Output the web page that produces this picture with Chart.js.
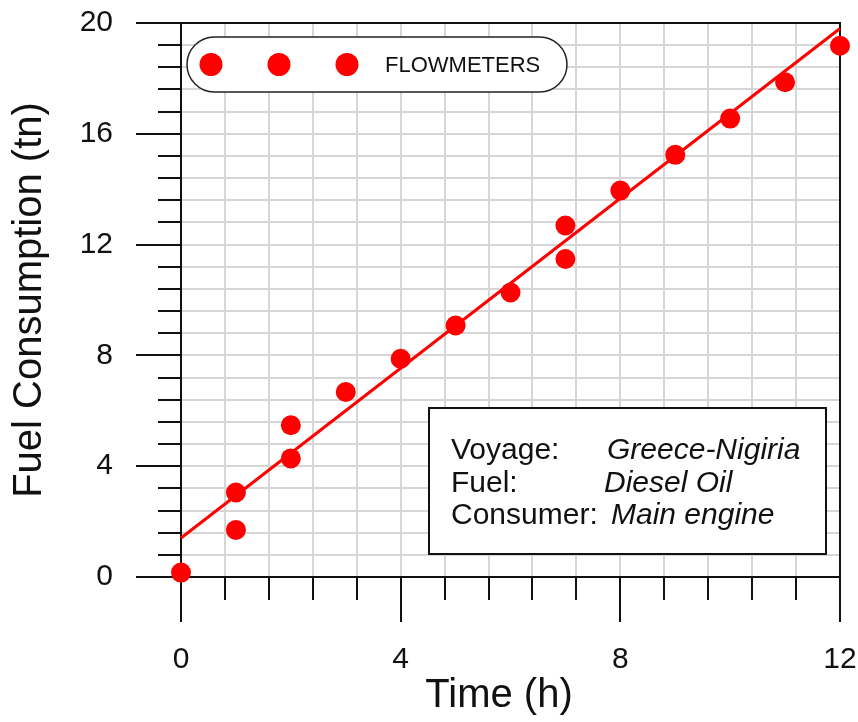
<!DOCTYPE html>
<html>
<head>
<meta charset="utf-8">
<title>Fuel Consumption</title>
<script src="https://cdn.jsdelivr.net/npm/chart.js@4.4.1/dist/chart.umd.min.js"></script>
<style>
  html, body { margin: 0; padding: 0; background: #fff; }
  #fuelChart { display: block; }
</style>
</head>
<body>
<canvas id="fuelChart" width="858" height="722"></canvas>
<script>
/* ─── DATA ─── */
const hours    = [0, 1, 1, 2, 2, 3, 4, 5, 6, 7, 7, 8, 9, 10, 11, 12];
const fuelTons = [0.16, 3.05, 1.7, 4.28, 5.48, 6.68, 7.88, 9.08, 10.27, 11.48, 12.69, 13.95, 15.24, 16.55, 17.86, 19.18];
const fitHours = [0, 12];
const fitTons  = [1.41, 19.8];
const xMajorTicks = [0, 4, 8, 12];
const yMajorTicks = [0, 4, 8, 12, 16, 20];
const minorStep = 0.8;
const legendLabel = 'FLOWMETERS';
const infoRows = [['Voyage:', 'Greece-Nigiria'], ['Fuel:', 'Diesel Oil'], ['Consumer:', 'Main engine']];

const sans = "'Liberation Sans', Arial, Helvetica, sans-serif";
const ink = '#111';
const red = '#ff0000';

// minor tick positions every 0.8 units
function stepTicks(max) {
  const out = [];
  for (let i = 0; i * minorStep <= max + 1e-6; i++) out.push({ value: Math.round(i * minorStep * 100) / 100 });
  return out;
}

/* ─── FRAME, TICK MARKS, LEGEND, INFO BOX ─── */
const decorations = {
  id: 'decorations',
  beforeDatasetsDraw(chart) {
    const { ctx, chartArea: a, scales: { x, y } } = chart;
    ctx.save();
    ctx.strokeStyle = ink;
    ctx.lineWidth = 2;
    ctx.strokeRect(a.left, a.top, a.right - a.left, a.bottom - a.top);
    ctx.beginPath();
    x.ticks.forEach(t => {
      const px = Math.round(x.getPixelForValue(t.value));
      const len = xMajorTicks.includes(t.value) ? 45 : 23;
      ctx.moveTo(px, a.bottom); ctx.lineTo(px, a.bottom + len);
    });
    y.ticks.forEach(t => {
      const py = Math.round(y.getPixelForValue(t.value));
      const len = yMajorTicks.includes(t.value) ? 45 : 23;
      ctx.moveTo(a.left, py); ctx.lineTo(a.left - len, py);
    });
    ctx.stroke();
    ctx.restore();
  },
  afterDatasetsDraw(chart) {
    const { ctx, chartArea: a } = chart;
    ctx.save();

    // pill-shaped legend
    const lx0 = a.left + 6, ly0 = a.top + 14, lx1 = a.left + 386, ly1 = a.top + 69;
    const r = (ly1 - ly0) / 2;
    ctx.beginPath();
    ctx.moveTo(lx0 + r, ly0);
    ctx.lineTo(lx1 - r, ly0);
    ctx.arc(lx1 - r, ly0 + r, r, -Math.PI / 2, Math.PI / 2);
    ctx.lineTo(lx0 + r, ly1);
    ctx.arc(lx0 + r, ly0 + r, r, Math.PI / 2, Math.PI * 1.5);
    ctx.closePath();
    ctx.fillStyle = '#fff';
    ctx.fill();
    ctx.strokeStyle = '#222';
    ctx.lineWidth = 1.5;
    ctx.stroke();
    ctx.fillStyle = red;
    [30, 98, 166].forEach(dx => {
      ctx.beginPath();
      ctx.arc(a.left + dx, ly0 + r, 11.5, 0, Math.PI * 2);
      ctx.fill();
    });
    ctx.fillStyle = ink;
    ctx.font = `22px ${sans}`;
    ctx.textBaseline = 'middle';
    ctx.fillText(legendLabel, a.left + 204, ly0 + r + 1);

    // voyage info box
    const bx = a.left + 248, by = a.top + 385, bw = 397, bh = 146;
    ctx.fillStyle = '#fff';
    ctx.fillRect(bx, by, bw, bh);
    ctx.strokeStyle = ink;
    ctx.lineWidth = 2;
    ctx.strokeRect(bx, by, bw, bh);
    ctx.textBaseline = 'alphabetic';
    const valueX = [607, 604, 611];
    infoRows.forEach((row, i) => {
      const base = by + 51 + i * 32.5;
      ctx.fillStyle = ink;
      ctx.font = `30px ${sans}`;
      ctx.fillText(row[0], bx + 22, base);
      ctx.font = `italic 30px ${sans}`;
      ctx.fillText(row[1], valueX[i], base);
    });

    // x axis title
    ctx.font = `40px ${sans}`;
    ctx.textAlign = 'center';
    ctx.textBaseline = 'middle';
    ctx.fillStyle = ink;
    ctx.fillText('Time (h)', 499, 696);
    ctx.restore();
  }
};

/* ─── CHART ─── */
const ctx = document.getElementById('fuelChart').getContext('2d');
new Chart(ctx, {
  type: 'scatter',
  data: {
    datasets: [
      {
        label: legendLabel,
        data: hours.map((h, i) => ({ x: h, y: fuelTons[i] })),
        pointRadius: 10,
        pointHoverRadius: 10,
        pointBackgroundColor: red,
        pointBorderWidth: 0,
        clip: false
      },
      {
        type: 'line',
        label: 'fit',
        data: fitHours.map((h, i) => ({ x: h, y: fitTons[i] })),
        borderColor: red,
        borderWidth: 3,
        pointRadius: 0,
        fill: false,
        clip: false
      }
    ]
  },
  options: {
    responsive: false,
    animation: false,
    devicePixelRatio: 1,
    layout: { padding: { top: 23, right: 18, left: 0, bottom: 0 } },
    plugins: { legend: { display: false }, tooltip: { enabled: false } },
    scales: {
      x: {
        type: 'linear', min: 0, max: 12,
        afterBuildTicks: s => { s.ticks = stepTicks(12); },
        afterFit: s => { s.height = 145; },
        // tick marks are drawn by the plugin; transparent ticks here only push the labels out
        grid: { color: '#d6d6d6', lineWidth: 2, drawTicks: true, tickLength: 65, tickColor: 'rgba(0,0,0,0)' },
        border: { display: false },
        ticks: {
          autoSkip: false, maxRotation: 0, padding: 0,
          color: ink, font: { family: sans, size: 30 },
          callback: v => xMajorTicks.includes(v) ? String(v) : ''
        }
      },
      y: {
        type: 'linear', min: 0, max: 20,
        afterBuildTicks: s => { s.ticks = stepTicks(20); },
        afterFit: s => { s.width = 181; },
        grid: { color: '#d6d6d6', lineWidth: 2, drawTicks: true, tickLength: 68, tickColor: 'rgba(0,0,0,0)' },
        border: { display: false },
        title: {
          display: true, text: 'Fuel Consumption (tn)', color: ink,
          font: { family: sans, size: 40 }, padding: { top: 6, bottom: 0 }
        },
        ticks: {
          autoSkip: false, padding: 0,
          color: ink, font: { family: sans, size: 30 },
          callback: v => yMajorTicks.includes(v) ? String(v) : ''
        }
      }
    }
  },
  plugins: [decorations]
});
</script>
</body>
</html>
